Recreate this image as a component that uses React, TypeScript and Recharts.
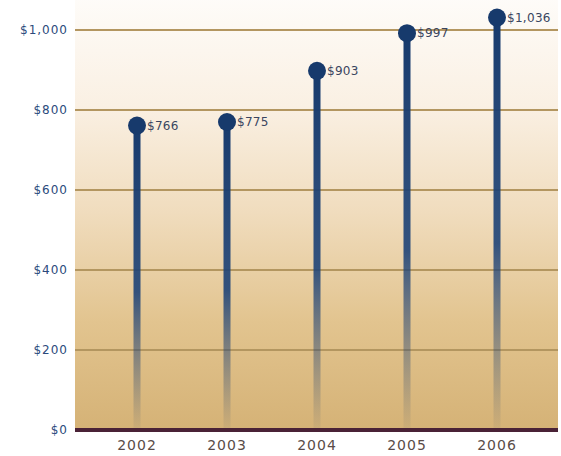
import React from 'react';
import { ComposedChart, Bar, XAxis, YAxis, CartesianGrid } from 'recharts';

const years = ['2002', '2003', '2004', '2005', '2006'];
const revenue = [766, 775, 903, 997, 1036];
const yTicks = [0, 200, 400, 600, 800, 1000];

const data = years.map((year, i) => ({ year, value: revenue[i] }));

const fmtMoney = (v: number) => '$' + v.toLocaleString('en-US');

// lollipop: fading stick + dot + value label
const Lollipop = (props: any) => {
  const { x, y, width, height, value } = props;
  const cx = x + width / 2;
  return (
    <g>
      <rect x={cx - 3.5} y={y} width={7} height={height} fill="url(#stick)" />
      <circle cx={cx} cy={y + 2} r={9} fill="#173a6c" />
      <text
        x={cx + 10}
        y={y + 2}
        dy="0.35em"
        fontSize={12}
        fontFamily="DejaVu Sans"
        letterSpacing={0.3}
        fill="#3a4560"
      >
        {fmtMoney(value)}
      </text>
    </g>
  );
};

export default function App() {
  return (
    <div style={{ width: 561, height: 456, overflow: 'hidden' }}>
      <style>{'body{margin:0}'}</style>
      {/* negative top margin pushes the grid's upper border out of view */}
      <ComposedChart
        width={561}
        height={456}
        data={data}
        margin={{ top: -3, right: 3, bottom: 0, left: 0 }}
      >
        <defs>
          <linearGradient id="bg" x1="0" y1="0" x2="0" y2="1">
            <stop offset="0" stopColor="#fefcf9" />
            <stop offset="0.25" stopColor="#faf0e3" />
            <stop offset="0.5" stopColor="#f0dcbd" />
            <stop offset="0.75" stopColor="#e2c48f" />
            <stop offset="1" stopColor="#d5b276" />
          </linearGradient>
          <linearGradient id="stick" x1="0" y1="0" x2="0" y2="1">
            <stop offset="0" stopColor="#173a6c" stopOpacity={1} />
            <stop offset="0.55" stopColor="#1f4478" stopOpacity={0.9} />
            <stop offset="1" stopColor="#3a5070" stopOpacity={0.05} />
          </linearGradient>
        </defs>
        <CartesianGrid
          vertical={false}
          stroke="#b39660"
          strokeWidth={2}
          fill="url(#bg)"
          fillOpacity={1}
        />
        <XAxis
          dataKey="year"
          padding={{ left: 17, right: 16 }}
          tickLine={false}
          tickSize={0}
          tickMargin={10}
          axisLine={{ stroke: '#4a2236', strokeWidth: 4 }}
          tick={{ fontSize: 14, fontFamily: 'DejaVu Sans', fill: '#5a4c48', letterSpacing: 1 }}
          height={26}
        />
        <YAxis
          domain={[0, 1082.5]}
          ticks={yTicks}
          tickFormatter={fmtMoney}
          axisLine={false}
          tickLine={false}
          tickSize={0}
          tickMargin={7}
          width={75}
          tick={{ fontSize: 12, fontFamily: 'DejaVu Sans', fill: '#2b4a7c', letterSpacing: 1 }}
        />
        <Bar dataKey="value" shape={<Lollipop />} isAnimationActive={false} />
      </ComposedChart>
    </div>
  );
}
